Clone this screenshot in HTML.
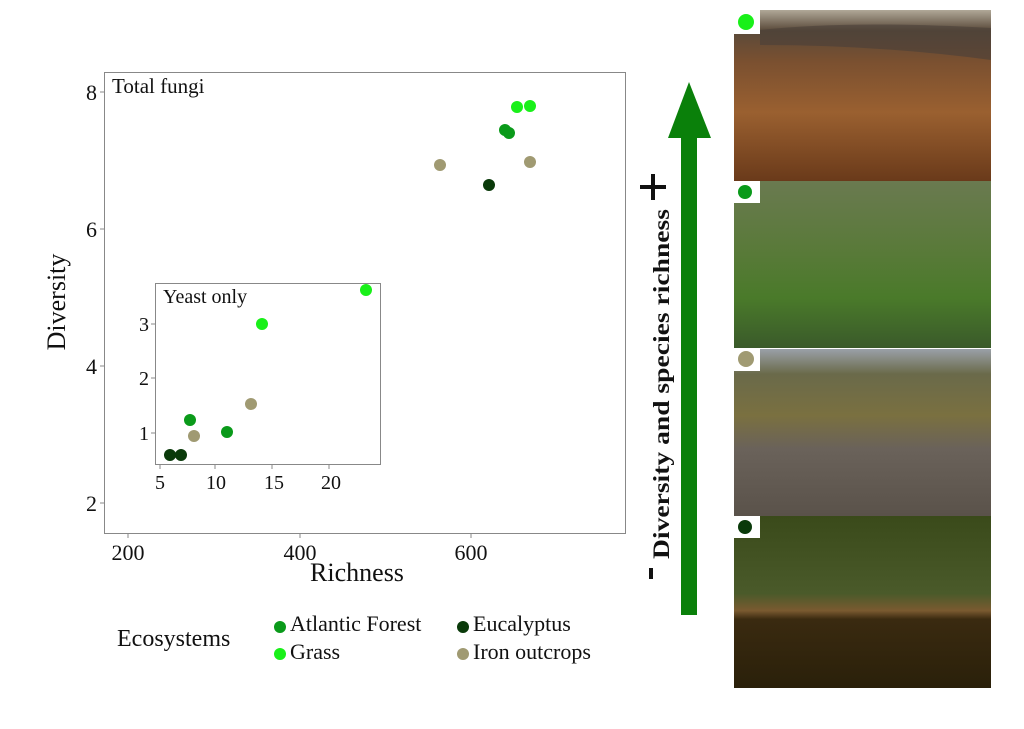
<!DOCTYPE html>
<html><head><meta charset="utf-8"><style>
html,body{margin:0;padding:0;background:#fff;}
svg{display:block;font-family:"Liberation Serif",serif;}
</style></head><body>
<svg width="1024" height="729" viewBox="0 0 1024 729" xmlns="http://www.w3.org/2000/svg">
<defs>
<linearGradient id="p1" x1="0" y1="0" x2="0" y2="1">
<stop offset="0" stop-color="#b0a898"/><stop offset="0.12" stop-color="#5a4a3a"/><stop offset="0.3" stop-color="#7a5030"/><stop offset="0.6" stop-color="#9a6030"/><stop offset="1" stop-color="#6a3a1a"/></linearGradient>
<linearGradient id="p2" x1="0" y1="0" x2="0" y2="1">
<stop offset="0" stop-color="#6a7a50"/><stop offset="0.4" stop-color="#5a7a3a"/><stop offset="0.7" stop-color="#4a7a2a"/><stop offset="1" stop-color="#3a5a2a"/></linearGradient>
<linearGradient id="p3" x1="0" y1="0" x2="0" y2="1">
<stop offset="0" stop-color="#9aa0a8"/><stop offset="0.15" stop-color="#6a6a4a"/><stop offset="0.4" stop-color="#7a7040"/><stop offset="0.6" stop-color="#6a625a"/><stop offset="1" stop-color="#5a524a"/></linearGradient>
<linearGradient id="p4" x1="0" y1="0" x2="0" y2="1">
<stop offset="0" stop-color="#3a4a1a"/><stop offset="0.45" stop-color="#4a5a2a"/><stop offset="0.55" stop-color="#7a5a30"/><stop offset="0.6" stop-color="#3a2a10"/><stop offset="1" stop-color="#2a200a"/></linearGradient>
</defs>
<rect width="1024" height="729" fill="#fff"/>
<rect x="104.5" y="72.5" width="521" height="461" fill="#fff" stroke="#888" stroke-width="1"/>
<g font-size="22" fill="#111" text-anchor="end">
<text x="97" y="100">8</text><text x="97" y="237">6</text><text x="97" y="374">4</text><text x="97" y="511">2</text>
</g>
<g stroke="#888"><line x1="100" x2="104" y1="92" y2="92"/><line x1="100" x2="104" y1="229" y2="229"/><line x1="100" x2="104" y1="366" y2="366"/><line x1="100" x2="104" y1="503" y2="503"/>
<line x1="128" x2="128" y1="534" y2="538"/><line x1="300" x2="300" y1="534" y2="538"/><line x1="471" x2="471" y1="534" y2="538"/></g>
<g font-size="22" fill="#111" text-anchor="middle">
<text x="128" y="560">200</text><text x="300" y="560">400</text><text x="471" y="560">600</text>
</g>
<text x="357" y="581" font-size="26" text-anchor="middle" fill="#111">Richness</text>
<text transform="translate(65,302) rotate(-90)" font-size="26" text-anchor="middle" fill="#111">Diversity</text>
<text x="112" y="93" font-size="21" fill="#111">Total fungi</text>
<g>
<circle cx="517" cy="107" r="6" fill="#19f019"/><circle cx="530" cy="106" r="6" fill="#19f019"/>
<circle cx="505" cy="130" r="6" fill="#0a9a1a"/><circle cx="509" cy="133" r="6" fill="#0a9a1a"/>
<circle cx="440" cy="165" r="6" fill="#a09a72"/><circle cx="530" cy="162" r="6" fill="#a09a72"/>
<circle cx="489" cy="185" r="6" fill="#0a3a0a"/>
</g>
<rect x="155.5" y="283.5" width="225" height="181" fill="#fff" stroke="#888"/>
<text x="163" y="303" font-size="20" fill="#111">Yeast only</text>
<g font-size="20" fill="#111" text-anchor="end"><text x="149" y="331">3</text><text x="149" y="385">2</text><text x="149" y="440">1</text></g>
<g stroke="#888"><line x1="151" x2="155" y1="324" y2="324"/><line x1="151" x2="155" y1="378" y2="378"/><line x1="151" x2="155" y1="433" y2="433"/>
<line x1="160" x2="160" y1="465" y2="469"/><line x1="215" x2="215" y1="465" y2="469"/><line x1="272" x2="272" y1="465" y2="469"/><line x1="329" x2="329" y1="465" y2="469"/></g>
<g font-size="20" fill="#111" text-anchor="middle"><text x="160" y="489">5</text><text x="216" y="489">10</text><text x="274" y="489">15</text><text x="331" y="489">20</text></g>
<g>
<circle cx="366" cy="290" r="6" fill="#19f019"/><circle cx="262" cy="324" r="6" fill="#19f019"/>
<circle cx="190" cy="420" r="6" fill="#0a9a1a"/><circle cx="227" cy="432" r="6" fill="#0a9a1a"/>
<circle cx="251" cy="404" r="6" fill="#a09a72"/><circle cx="194" cy="436" r="6" fill="#a09a72"/>
<circle cx="170" cy="455" r="6" fill="#0a3a0a"/><circle cx="181" cy="455" r="6" fill="#0a3a0a"/>
</g>
<text x="117" y="646" font-size="24" fill="#111">Ecosystems</text>
<circle cx="280" cy="627" r="6" fill="#0a9a1a"/><text x="290" y="631" font-size="22" fill="#111">Atlantic Forest</text>
<circle cx="280" cy="654" r="6" fill="#19f019"/><text x="290" y="659" font-size="22" fill="#111">Grass</text>
<circle cx="463" cy="627" r="6" fill="#0a3a0a"/><text x="473" y="631" font-size="22" fill="#111">Eucalyptus</text>
<circle cx="463" cy="654" r="6" fill="#a09a72"/><text x="473" y="659" font-size="22" fill="#111">Iron outcrops</text>
<rect x="681" y="132" width="16" height="483" fill="#0a800a"/>
<polygon points="689,82 711,138 668,138" fill="#0a800a"/>
<text transform="translate(669,384) rotate(-90)" font-size="23" font-weight="bold" text-anchor="middle" fill="#111" textLength="350" lengthAdjust="spacingAndGlyphs">Diversity and species richness</text>
<rect x="649" y="568" width="4" height="11" fill="#111"/>
<rect x="651" y="174" width="4" height="26" fill="#111"/><rect x="640" y="185" width="26" height="4" fill="#111"/>
<rect x="734" y="10" width="257" height="171" fill="url(#p1)"/>
<path d="M760 30 Q850 20 991 28 L991 60 Q880 45 760 45Z" fill="#4a4038" opacity="0.6"/>
<rect x="734" y="181" width="257" height="167" fill="url(#p2)"/>
<rect x="734" y="349" width="257" height="167" fill="url(#p3)"/>
<rect x="734" y="516" width="257" height="172" fill="url(#p4)"/>
<rect x="734" y="10" width="26" height="24" fill="#fff"/><circle cx="746" cy="22" r="8" fill="#19f019"/>
<rect x="734" y="181" width="26" height="22" fill="#fff"/><circle cx="745" cy="192" r="7" fill="#0a9a1a"/>
<rect x="734" y="349" width="26" height="22" fill="#fff"/><circle cx="746" cy="359" r="8" fill="#a09a72"/>
<rect x="734" y="516" width="26" height="22" fill="#fff"/><circle cx="745" cy="527" r="7" fill="#0a3a0a"/>
</svg>
</body></html>
